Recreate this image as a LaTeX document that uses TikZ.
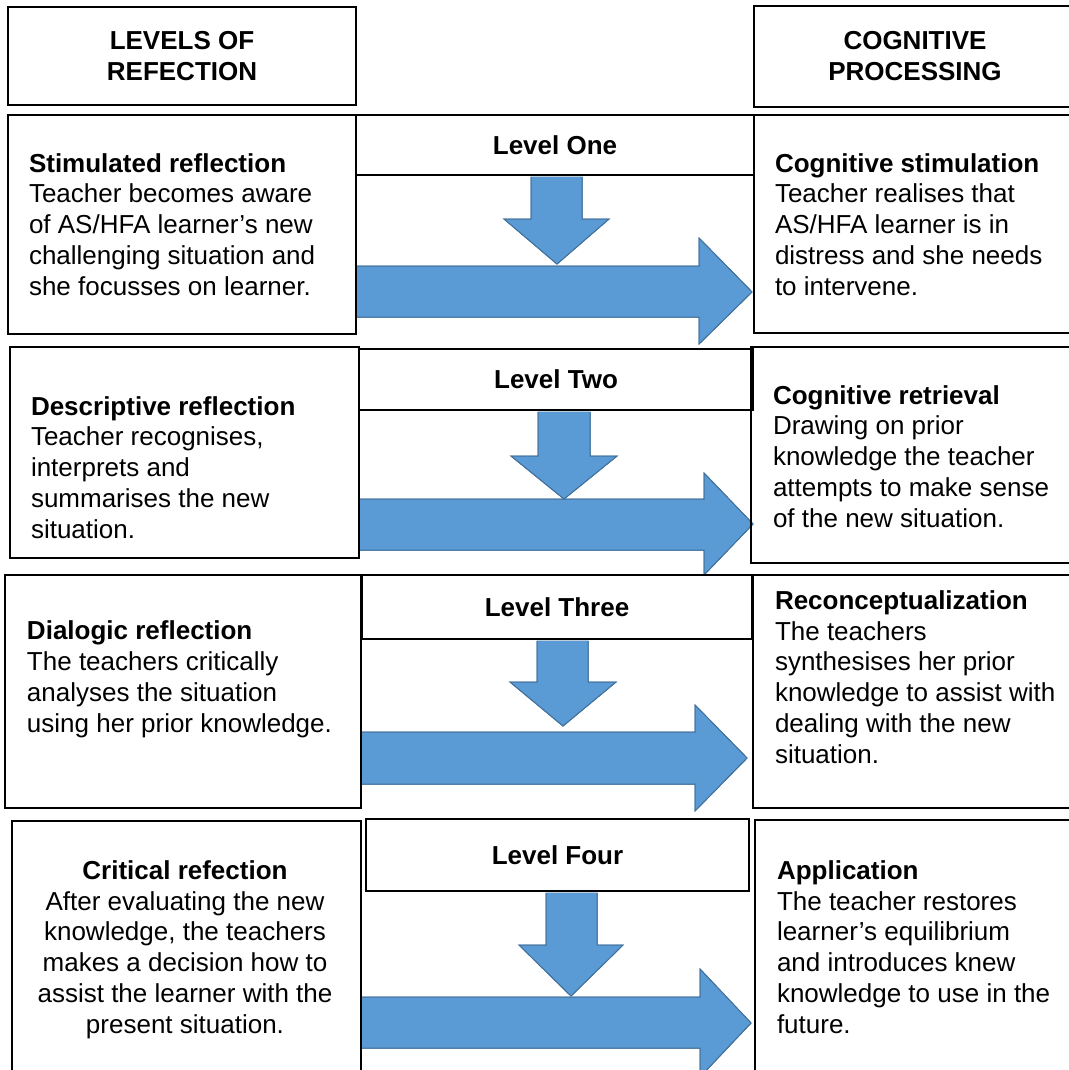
\documentclass[tikz,border=0pt]{standalone}
\usepackage{fontspec}
\setmainfont{Liberation Sans}
\definecolor{arrfill}{HTML}{5B9BD5}
\definecolor{arrline}{HTML}{41719C}
\begin{document}
\begin{tikzpicture}[x=1pt,y=-1pt,
  box/.style={draw=black, line width=2pt, inner sep=0pt, outer sep=0pt, anchor=north west},
  lvl/.style={box, font=\fontsize{26}{30.7}\selectfont\bfseries},
  txt/.style={font=\fontsize{26}{30.7}\selectfont, inner sep=0pt, outer sep=0pt, align=left, anchor=base west},
  ctxt/.style={font=\fontsize{26}{30.7}\selectfont, inner sep=0pt, outer sep=0pt, align=center, anchor=base},
  hdr/.style={font=\fontsize{26}{31}\selectfont\bfseries, inner sep=0pt, outer sep=0pt, align=center, anchor=base},
  blue/.style={fill=arrfill, draw=arrline, line width=1pt, line join=miter}]
\useasboundingbox (0,0) rectangle (1068,1070);

% ---------- arrows ----------
% row 1
\fill[blue] (356,266) -- (699,266) -- (699,238) -- (752,292) -- (699,344) -- (699,317) -- (356,317) -- cycle;
\fill[blue] (531,177) -- (582,177) -- (582,219) -- (609,219) -- (557,264) -- (504,219) -- (531,219) -- cycle;
\draw[blue] (356,266) -- (699,266) -- (699,238) -- (752,292) -- (699,344) -- (699,317) -- (356,317);
\draw[blue] (531,177) -- (531,219) -- (504,219) -- (557,264) -- (609,219) -- (582,219) -- (582,177);
% row 2
\fill[blue] (359,499) -- (704,499) -- (704,473) -- (753,524) -- (704,575) -- (704,550) -- (359,550) -- cycle;
\fill[blue] (538,412) -- (590,412) -- (590,456) -- (617,456) -- (564,499) -- (511,456) -- (538,456) -- cycle;
\draw[blue] (359,499) -- (704,499) -- (704,473) -- (753,524) -- (704,575) -- (704,550) -- (359,550);
\draw[blue] (538,412) -- (538,456) -- (511,456) -- (564,499) -- (617,456) -- (590,456) -- (590,412);
% row 3
\fill[blue] (362,732) -- (695,732) -- (695,705) -- (747,758) -- (695,811) -- (695,784) -- (362,784) -- cycle;
\fill[blue] (537,641) -- (588,641) -- (588,682) -- (616,682) -- (563,726) -- (510,682) -- (537,682) -- cycle;
\draw[blue] (362,732) -- (695,732) -- (695,705) -- (747,758) -- (695,811) -- (695,784) -- (362,784);
\draw[blue] (537,641) -- (537,682) -- (510,682) -- (563,726) -- (616,682) -- (588,682) -- (588,641);
% row 4
\fill[blue] (361,997) -- (700,997) -- (700,969) -- (751,1023) -- (700,1077) -- (700,1048) -- (361,1048) -- cycle;
\fill[blue] (546,893) -- (597,893) -- (597,945) -- (623,945) -- (571,996) -- (519,945) -- (546,945) -- cycle;
\draw[blue] (361,997) -- (700,997) -- (700,969) -- (751,1023) -- (700,1077) -- (700,1048) -- (361,1048);
\draw[blue] (546,893) -- (546,945) -- (519,945) -- (571,996) -- (623,945) -- (597,945) -- (597,893);

% ---------- boxes ----------
\node[box, minimum width=348pt, minimum height=98pt] (h1) at (8,7) {};
\node[box, minimum width=326pt, minimum height=101pt] (h2) at (754,6) {};

\node[box, minimum width=348pt, minimum height=219pt] (l1) at (8,115) {};
\node[lvl, minimum width=398pt, minimum height=60pt] (m1) at (356,115) {Level One};
\node[box, minimum width=326pt, minimum height=218pt] (r1) at (754,115) {};

\node[box, minimum width=349pt, minimum height=211pt] (l2) at (10,347) {};
\node[lvl, minimum width=394pt, minimum height=61pt] (m2) at (359,349) {Level Two};
\node[box, minimum width=329pt, minimum height=216pt] (r2) at (751,347) {};

\node[box, minimum width=356pt, minimum height=233pt] (l3) at (5,575) {};
\node[lvl, minimum width=390pt, minimum height=64pt] (m3) at (362,575) {Level Three};
\node[box, minimum width=327pt, minimum height=233pt] (r3) at (753,575) {};

\node[box, minimum width=349pt, minimum height=260pt] (l4) at (12,821) {};
\node[lvl, minimum width=383pt, minimum height=72pt] (m4) at (366,819) {Level Four};
\node[box, minimum width=325pt, minimum height=260pt] (r4) at (755,820) {};

% ---------- texts (anchored at the baseline of the last line) ----------
\node[hdr] (th1) at (182,81) {LEVELS OF\\REFECTION};
\node[hdr] (th2) at (915,81) {COGNITIVE\\PROCESSING};

\node[txt] (tl1) at (29,295) {\textbf{Stimulated reflection}\\Teacher becomes aware\\of AS/HFA learner’s new\\challenging situation and\\she focusses on learner.};
\node[txt] (tr1) at (775,295) {\textbf{Cognitive stimulation}\\Teacher realises that\\AS/HFA learner is in\\distress and she needs\\to intervene.};

\node[txt] (tl2) at (31,538) {\textbf{Descriptive reflection}\\Teacher recognises,\\interprets and\\summarises the new\\situation.};
\node[txt] (tr2) at (773,527) {\textbf{Cognitive retrieval}\\Drawing on prior\\knowledge the teacher\\attempts to make sense\\of the new situation.};

\node[txt] (tl3) at (27,732) {\textbf{Dialogic reflection}\\The teachers critically\\analyses the situation\\using her prior knowledge.};
\node[txt] (tr3) at (775,763) {\textbf{Reconceptualization}\\The teachers\\synthesises her prior\\knowledge to assist with\\dealing with the new\\situation.};

\node[ctxt] (tl4) at (185,1033) {\textbf{Critical refection}\\After evaluating the new\\knowledge, the teachers\\makes a decision how to\\assist the learner with the\\present situation.};
\node[txt] (tr4) at (777,1033) {\textbf{Application}\\The teacher restores\\learner’s equilibrium\\and introduces knew\\knowledge to use in the\\future.};
\end{tikzpicture}
\end{document}
